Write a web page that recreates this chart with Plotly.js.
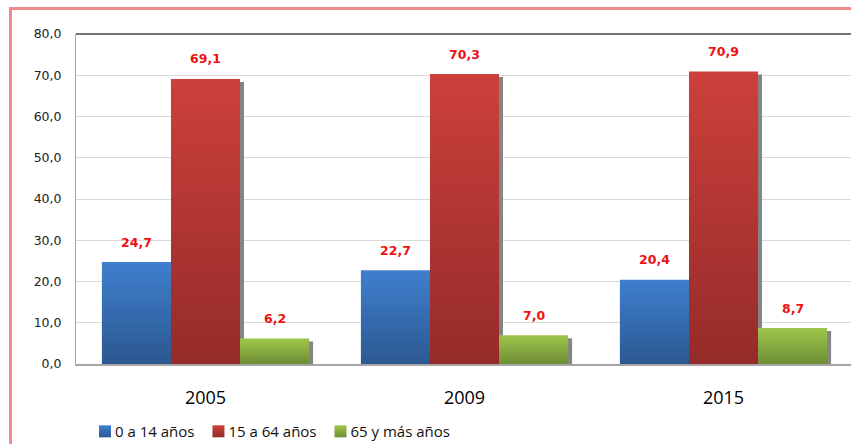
<!DOCTYPE html>
<html>
<head>
<meta charset="utf-8">
<script src="https://cdn.plot.ly/plotly-3.0.1.min.js"></script>
<style>
  html, body { margin: 0; padding: 0; overflow: hidden; background: #fff; width: 851px; height: 444px; }
  #chart { position: absolute; left: 0; top: 0; width: 870px; height: 444px; }
  #frame { position: absolute; left: 9px; top: 7px; width: 900px; height: 500px; border-left: 3px solid #f28a88; border-top: 3px solid #f28a88; pointer-events: none; }
  .barlayer g.trace path { filter: drop-shadow(4px 3px 0px #858585); }
  .barlayer > g.trace:nth-child(1) path { fill: url(#gB) !important; }
  .barlayer > g.trace:nth-child(2) path { fill: url(#gR) !important; }
  .barlayer > g.trace:nth-child(3) path { fill: url(#gG) !important; }
  .legend g.traces:nth-child(1) .legendpoints path { fill: url(#gB) !important; }
  .legend g.traces:nth-child(2) .legendpoints path { fill: url(#gR) !important; }
  .legend g.traces:nth-child(3) .legendpoints path { fill: url(#gG) !important; }
  .legend g.traces:nth-child(1) text.legendtext { transform: translateX(-10px); }
  .legend g.traces:nth-child(2) .legendpoints { transform: translateX(-11px); }
  .legend g.traces:nth-child(2) text.legendtext { transform: translateX(-21px); }
  .legend g.traces:nth-child(3) .legendpoints { transform: translateX(-22px); }
  .legend g.traces:nth-child(3) text.legendtext { transform: translateX(-32px); }
</style>
</head>
<body>
<svg width="0" height="0" style="position:absolute">
  <defs>
    <linearGradient id="gB" x1="0" y1="0" x2="0" y2="1">
      <stop offset="0" stop-color="#3f7fce"/><stop offset="1" stop-color="#2b5890"/>
    </linearGradient>
    <linearGradient id="gR" x1="0" y1="0" x2="0" y2="1">
      <stop offset="0" stop-color="#cd403b"/><stop offset="1" stop-color="#942b29"/>
    </linearGradient>
    <linearGradient id="gG" x1="0" y1="0" x2="0" y2="1">
      <stop offset="0" stop-color="#9fc64b"/><stop offset="1" stop-color="#6e8d35"/>
    </linearGradient>
  </defs>
</svg>
<div id="chart"></div>
<div id="frame"></div>
<script>
const years = ['2005', '2009', '2015'];
const seriesNames = ['0 a 14 años', '15 a 64 años', '65 y más años'];
const age0to14 = [24.7, 22.7, 20.4];
const age15to64 = [69.1, 70.3, 70.9];
const age65plus = [6.2, 7.0, 8.7];
const yTicks = [0, 10, 20, 30, 40, 50, 60, 70, 80];

const seriesValues = [age0to14, age15to64, age65plus];
const seriesColors = ['#3a76c2', '#c0393a', '#8db544'];

const traces = seriesValues.map((vals, s) => ({
  type: 'bar',
  name: seriesNames[s],
  x: years,
  y: vals,
  marker: { color: seriesColors[s], line: { width: 0 } },
  hoverinfo: 'skip'
}));

const fmt = v => v.toFixed(1).replace('.', ',');
const barPx = 69;
const annotations = [];
seriesValues.forEach((vals, s) => {
  vals.forEach((v, i) => {
    annotations.push({
      x: i, y: v, xref: 'x', yref: 'y',
      text: fmt(v), showarrow: false,
      xshift: (s - 1) * barPx, yshift: 20,
      yanchor: 'middle',
      font: { family: 'DejaVu Sans', size: 12.5, color: '#ee1111', weight: 'bold' }
    });
  });
});

const layout = {
  width: 870, height: 444,
  margin: { l: 76, r: 17, t: 34, b: 80 },
  paper_bgcolor: '#ffffff', plot_bgcolor: '#ffffff',
  separators: ',.',
  barmode: 'group', bargap: 0.2, bargroupgap: 0,
  xaxis: {
    type: 'category', range: [-0.5, 2.5], autorange: false,
    showgrid: false, zeroline: false,
    showline: true, linecolor: '#a6a6a6', linewidth: 2,
    ticks: '', ticklabelstandoff: 16,
    tickfont: { family: 'Open Sans', size: 18, color: '#000' }
  },
  yaxis: {
    range: [0, 80], autorange: false, tickvals: yTicks, tickformat: '.1f',
    showgrid: true, gridcolor: '#d9d9d9', gridwidth: 1,
    zeroline: false, showline: true, linecolor: '#a6a6a6', linewidth: 1,
    ticks: '', ticklabelstandoff: 11,
    tickfont: { family: 'DejaVu Sans', size: 12.5, color: '#222' }
  },
  shapes: [{
    type: 'line', xref: 'paper', yref: 'paper', x0: 0, x1: 1, y0: 1, y1: 1,
    line: { color: '#444444', width: 1.5 }
  }],
  annotations: annotations,
  showlegend: true,
  legend: {
    orientation: 'h', xref: 'container', yref: 'container',
    x: 0.0977, xanchor: 'left', y: 0.028, yanchor: 'middle',
    font: { family: 'Open Sans', size: 15, color: '#111' },
    itemwidth: 30, traceorder: 'normal'
  }
};

Plotly.newPlot('chart', traces, layout, { displayModeBar: false, staticPlot: true });
</script>
</body>
</html>
